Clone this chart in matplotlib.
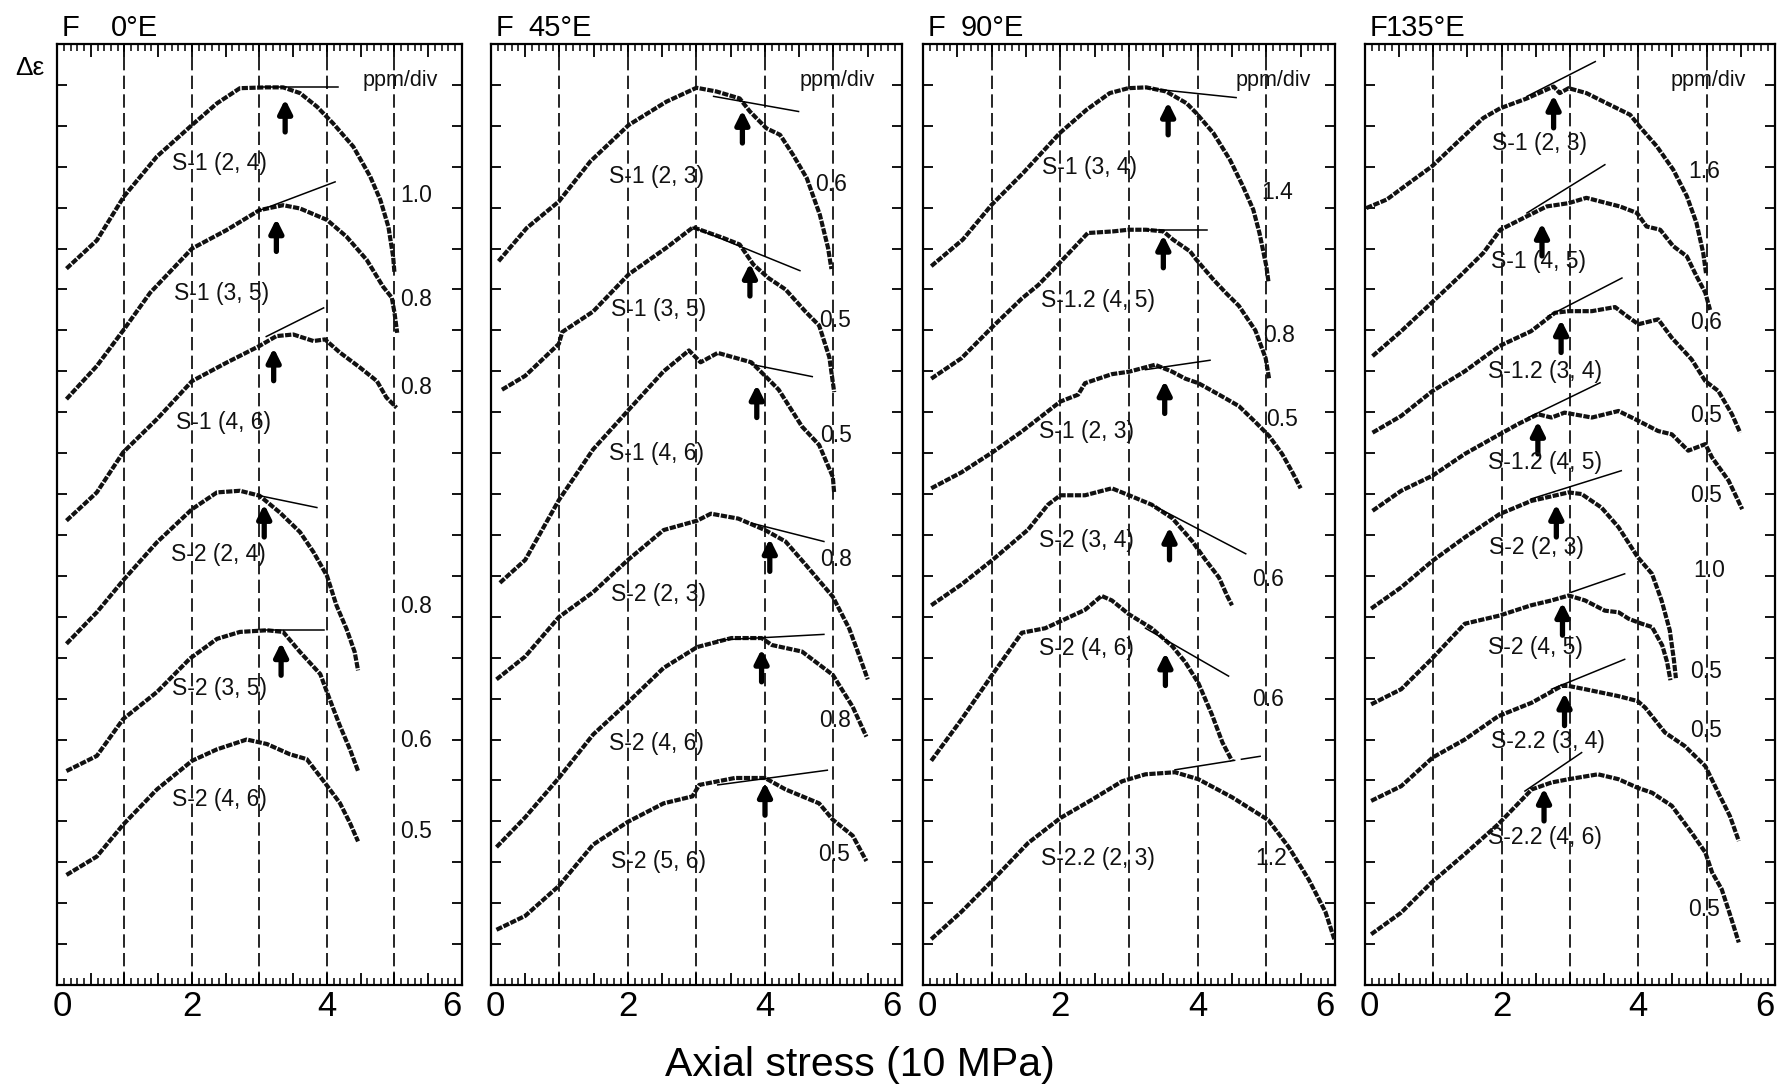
import matplotlib
matplotlib.use("Agg")
import matplotlib.pyplot as plt
import matplotlib.transforms as mtransforms
from matplotlib.ticker import MultipleLocator, NullFormatter

plt.rcParams['font.family'] = ['Liberation Sans', 'DejaVu Sans']

# ---- F 0°E ----
f0_labels = ["S-1 (2, 4)", "S-1 (3, 5)", "S-1 (4, 6)", "S-2 (2, 4)", "S-2 (3, 5)", "S-2 (4, 6)"]
f0_scales = ["1.0", "0.8", "0.8", "0.8", "0.6", "0.5"]
f0_x = [
    [0.14, 0.59, 0.99, 1.48, 2.0, 2.37, 2.71, 3.1, 3.35, 3.6, 3.85, 4.09, 4.39, 4.64, 4.79, 4.91, 4.98, 5.0],
    [0.14, 0.59, 0.99, 1.38, 2.0, 2.51, 3.0, 3.35, 3.6, 4.0, 4.29, 4.59, 4.83, 4.96, 5.0, 5.04],
    [0.14, 0.59, 0.98, 1.48, 2.0, 2.51, 3.0, 3.25, 3.5, 3.8, 3.97, 4.19, 4.49, 4.74, 4.88, 5.03],
    [0.14, 0.59, 0.98, 1.48, 2.0, 2.37, 2.71, 3.0, 3.3, 3.6, 3.8, 4.0, 4.14, 4.29, 4.41, 4.46],
    [0.14, 0.59, 0.98, 1.48, 1.97, 2.37, 2.71, 3.11, 3.35, 3.6, 3.9, 4.02, 4.19, 4.34, 4.46],
    [0.14, 0.59, 0.98, 1.48, 2.0, 2.37, 2.81, 3.11, 3.45, 3.7, 3.97, 4.19, 4.34, 4.46],
]
f0_y = [
    [17.51, 18.2, 19.27, 20.25, 21.02, 21.55, 21.92, 21.94, 21.94, 21.8, 21.47, 21.06, 20.49, 19.76, 19.19, 18.53, 17.8, 17.4],
    [14.32, 15.13, 16.02, 16.92, 18.0, 18.45, 18.94, 19.06, 18.98, 18.7, 18.29, 17.72, 17.07, 16.8, 16.43, 15.94],
    [11.35, 12.04, 13.02, 13.83, 14.76, 15.21, 15.62, 15.86, 15.9, 15.74, 15.78, 15.46, 15.09, 14.76, 14.36, 14.11],
    [8.34, 9.11, 9.89, 10.82, 11.63, 12.04, 12.08, 11.96, 11.55, 11.07, 10.58, 10.0, 9.28, 8.7, 8.14, 7.69],
    [5.23, 5.6, 6.5, 7.16, 7.98, 8.46, 8.63, 8.67, 8.63, 8.14, 7.6, 7.07, 6.34, 5.76, 5.23],
    [2.69, 3.14, 3.92, 4.78, 5.48, 5.76, 6.0, 5.89, 5.64, 5.52, 4.94, 4.45, 3.96, 3.51],
]
f0_onset = [(3.38, 21.7), (3.25, 18.78), (3.21, 15.62), (3.07, 11.8), (3.32, 8.42), None]
f0_tangent = [(3.0, 21.94, 4.17, 21.94), (2.95, 18.9, 4.12, 19.63), (3.1, 15.85, 3.95, 16.55),
              (3.0, 11.96, 3.85, 11.67), (3.05, 8.67, 3.95, 8.67), None]

# ---- F 45°E ----
f45_labels = ["S-1 (2, 3)", "S-1 (3, 5)", "S-1 (4, 6)", "S-2 (2, 3)", "S-2 (4, 6)", "S-2 (5, 6)"]
f45_scales = ["0.6", "0.5", "0.5", "0.8", "0.8", "0.5"]
f45_x = [
    [0.11, 0.52, 0.99, 1.45, 2.01, 2.56, 3.0, 3.29, 3.63, 3.78, 4.02, 4.22, 4.41, 4.61, 4.8, 4.92, 4.97],
    [0.16, 0.5, 0.99, 1.04, 1.49, 2.01, 2.56, 2.95, 3.39, 3.63, 3.83, 4.05, 4.3, 4.59, 4.79, 4.94, 5.01],
    [0.13, 0.5, 0.99, 1.49, 2.0, 2.52, 2.89, 3.06, 3.31, 3.8, 4.0, 4.2, 4.54, 4.79, 4.99, 5.01],
    [0.08, 0.5, 0.99, 1.49, 2.0, 2.52, 3.01, 3.21, 3.61, 4.0, 4.3, 4.59, 4.99, 5.23, 5.38, 5.5],
    [0.08, 0.5, 0.99, 1.49, 2.0, 2.52, 3.01, 3.51, 3.95, 4.1, 4.54, 4.99, 5.28, 5.48],
    [0.08, 0.5, 0.99, 1.49, 2.0, 2.52, 2.94, 3.04, 3.56, 4.0, 4.3, 4.79, 4.99, 5.28, 5.48],
]
f45_y = [
    [17.69, 18.5, 19.15, 20.13, 21.02, 21.59, 21.93, 21.84, 21.67, 21.35, 20.94, 20.78, 20.29, 19.72, 18.83, 18.02, 17.5],
    [14.55, 14.89, 15.67, 15.96, 16.46, 17.37, 18.02, 18.52, 18.26, 18.1, 17.61, 17.28, 17.0, 16.46, 16.12, 15.34, 14.49],
    [9.83, 10.39, 11.85, 13.09, 14.04, 15.0, 15.51, 15.22, 15.45, 15.22, 14.89, 14.55, 13.65, 13.2, 12.42, 12.02],
    [7.47, 8.03, 8.99, 9.6, 10.39, 11.12, 11.35, 11.52, 11.4, 11.12, 10.84, 10.28, 9.49, 8.71, 8.03, 7.47],
    [3.37, 4.1, 5.06, 6.12, 6.91, 7.75, 8.26, 8.48, 8.48, 8.31, 8.15, 7.58, 6.8, 6.07],
    [1.35, 1.69, 2.42, 3.43, 3.99, 4.44, 4.61, 4.89, 5.06, 5.06, 4.78, 4.44, 4.04, 3.65, 3.03],
]
f45_onset = [(3.67, 21.43), (3.78, 17.69), (3.88, 14.72), (4.07, 10.96), (3.95, 8.26), (4.0, 5.0)]
f45_tangent = [(3.25, 21.72, 4.49, 21.35), (2.95, 18.52, 4.51, 17.46), (3.8, 15.17, 4.69, 14.87),
               (3.8, 11.29, 4.86, 10.84), (3.31, 8.43, 4.86, 8.57), (3.31, 4.89, 4.91, 5.25)]

# ---- F 90°E ----
f90_labels = ["S-1 (3, 4)", "S-1.2 (4, 5)", "S-1 (2, 3)", "S-2 (3, 4)", "S-2 (4, 6)", "S-2.2 (2, 3)"]
f90_scales = ["1.4", "0.8", "0.5", "0.6", "0.6", "1.2"]
f90_x = [
    [0.12, 0.58, 1.0, 1.46, 1.99, 2.38, 2.72, 2.99, 3.25, 3.54, 3.84, 3.98, 4.23, 4.47, 4.66, 4.81, 4.9, 5.0, 5.03],
    [0.12, 0.56, 1.02, 1.44, 1.68, 1.99, 2.4, 2.77, 2.99, 3.25, 3.5, 3.64, 3.89, 3.98, 4.23, 4.42, 4.6, 4.84, 4.99, 5.04],
    [0.12, 0.56, 1.02, 1.44, 2.0, 2.26, 2.36, 2.75, 3.0, 3.38, 3.63, 3.82, 4.01, 4.31, 4.6, 4.84, 5.04, 5.23, 5.38, 5.5],
    [0.12, 0.56, 1.02, 1.53, 1.82, 2.0, 2.36, 2.75, 3.0, 3.33, 3.63, 3.92, 4.11, 4.31, 4.43, 4.5],
    [0.12, 0.56, 1.02, 1.44, 1.78, 2.0, 2.36, 2.6, 2.75, 3.0, 3.33, 3.63, 3.82, 4.01, 4.21, 4.36, 4.5],
    [0.12, 0.56, 1.02, 1.53, 2.0, 2.46, 2.9, 3.24, 3.67, 4.01, 4.5, 5.03, 5.33, 5.62, 5.86, 5.99],
]
f90_y = [
    [17.57, 18.22, 19.07, 19.85, 20.82, 21.39, 21.8, 21.92, 21.94, 21.84, 21.55, 21.31, 20.82, 20.17, 19.52, 18.95, 18.38, 17.57, 17.2],
    [14.82, 15.32, 16.1, 16.78, 17.11, 17.65, 18.38, 18.42, 18.46, 18.46, 18.42, 18.22, 17.93, 17.73, 17.24, 16.9, 16.6, 16.0, 15.32, 14.82],
    [12.14, 12.53, 13.03, 13.53, 14.26, 14.43, 14.71, 14.93, 14.99, 15.16, 14.99, 14.82, 14.71, 14.43, 14.15, 13.76, 13.42, 12.98, 12.53, 12.14],
    [9.28, 9.79, 10.4, 11.13, 11.74, 11.97, 11.97, 12.14, 11.97, 11.74, 11.41, 10.85, 10.4, 9.96, 9.51, 9.28],
    [5.48, 6.49, 7.61, 8.61, 8.72, 8.89, 9.17, 9.51, 9.4, 9.06, 8.72, 8.28, 7.89, 7.38, 6.6, 5.93, 5.48],
    [1.12, 1.79, 2.57, 3.47, 4.08, 4.53, 4.98, 5.15, 5.2, 5.03, 4.59, 4.03, 3.36, 2.57, 1.79, 1.12],
]
f90_onset = [(3.57, 21.63), (3.5, 18.38), (3.52, 14.82), (3.59, 11.24), (3.53, 8.17), None]
f90_tangent = [(3.25, 21.92, 4.56, 21.69), (3.25, 18.46, 4.13, 18.46), (3.24, 15.04, 4.18, 15.27),
               (3.33, 11.74, 4.7, 10.54), (3.24, 8.72, 4.45, 7.55), (3.67, 5.26, 4.91, 5.59)]

# ---- F135°E ----
f135_labels = ["S-1 (2, 3)", "S-1 (4, 5)", "S-1.2 (3, 4)", "S-1.2 (4, 5)", "S-2 (2, 3)", "S-2 (4, 5)",
               "S-2.2 (3, 4)", "S-2.2 (4, 6)"]
f135_scales = ["1.6", "0.6", "0.5", "0.5", "1.0", "0.5", "0.5", "0.5"]
f135_x = [
    [0.02, 0.32, 0.61, 0.98, 1.39, 1.73, 1.98, 2.37, 2.76, 2.85, 2.98, 3.24, 3.54, 3.88, 4.02, 4.27, 4.51, 4.71, 4.85, 4.95, 4.99],
    [0.11, 0.53, 0.99, 1.39, 1.73, 1.98, 2.37, 2.66, 2.98, 3.24, 3.54, 3.73, 3.98, 4.12, 4.32, 4.51, 4.71, 4.85, 4.98, 5.05],
    [0.11, 0.53, 0.99, 1.46, 1.97, 2.43, 2.78, 2.98, 3.32, 3.66, 3.8, 4.0, 4.29, 4.49, 4.78, 4.98, 5.17, 5.37, 5.49],
    [0.11, 0.53, 0.99, 1.46, 1.97, 2.24, 2.53, 2.73, 2.92, 3.32, 3.71, 4.0, 4.29, 4.49, 4.73, 4.98, 5.08, 5.32, 5.52],
    [0.09, 0.53, 0.99, 1.46, 1.97, 2.43, 2.98, 3.17, 3.46, 3.71, 3.99, 4.2, 4.34, 4.46, 4.52, 4.55],
    [0.09, 0.53, 0.97, 1.46, 1.97, 2.43, 2.73, 2.98, 3.22, 3.51, 3.71, 3.86, 4.05, 4.2, 4.35, 4.42, 4.47],
    [0.09, 0.53, 0.99, 1.46, 1.95, 2.44, 2.88, 2.98, 3.22, 3.71, 3.99, 4.1, 4.39, 4.68, 4.98, 5.17, 5.34, 5.47],
    [0.09, 0.53, 0.97, 1.46, 1.95, 2.44, 2.73, 2.98, 3.41, 3.71, 3.99, 4.2, 4.49, 4.78, 4.98, 5.08, 5.22, 5.34, 5.47],
]
f135_y = [
    [18.99, 19.2, 19.56, 20.01, 20.66, 21.19, 21.43, 21.67, 21.96, 21.8, 21.92, 21.8, 21.55, 21.27, 20.98, 20.5, 19.93, 19.28, 18.63, 17.89, 17.4],
    [15.37, 15.98, 16.7, 17.33, 17.89, 18.46, 18.79, 19.03, 19.11, 19.24, 19.11, 19.03, 18.87, 18.54, 18.46, 18.06, 17.81, 17.33, 16.92, 16.5],
    [13.5, 13.91, 14.52, 15.0, 15.62, 15.98, 16.43, 16.47, 16.47, 16.57, 16.39, 16.15, 16.27, 15.82, 15.29, 14.76, 14.52, 13.95, 13.5],
    [11.59, 12.08, 12.45, 12.98, 13.46, 13.71, 13.95, 13.87, 13.99, 13.87, 14.03, 13.79, 13.54, 13.46, 13.06, 13.22, 12.89, 12.33, 11.63],
    [9.2, 9.72, 10.37, 10.94, 11.51, 11.83, 12.04, 12.0, 11.67, 11.19, 10.46, 10.05, 9.4, 8.67, 7.95, 7.5],
    [6.86, 7.23, 7.96, 8.83, 9.03, 9.28, 9.4, 9.52, 9.4, 9.15, 9.11, 8.95, 8.83, 8.75, 8.3, 7.9, 7.45],
    [4.5, 4.86, 5.56, 6.0, 6.57, 6.9, 7.31, 7.31, 7.23, 7.06, 6.94, 6.78, 6.17, 5.84, 5.35, 4.7, 4.13, 3.52],
    [1.24, 1.77, 2.5, 3.2, 3.93, 4.78, 4.95, 5.03, 5.15, 5.03, 4.82, 4.7, 4.38, 3.72, 3.24, 2.75, 2.34, 1.73, 1.04],
]
f135_onset = [(2.76, 21.8), (2.59, 18.67), (2.87, 16.31), (2.53, 13.83), (2.8, 11.8), (2.89, 9.4),
              (2.92, 7.19), (2.62, 4.86)]
f135_tangent = [(2.37, 21.72, 3.37, 22.57), (2.37, 18.87, 3.51, 20.05), (2.68, 16.35, 3.76, 17.28),
                (2.39, 13.87, 3.44, 14.72), (2.43, 11.88, 3.75, 12.57), (3.02, 9.6, 3.8, 10.05),
                (2.73, 7.23, 3.8, 7.96), (2.34, 4.74, 3.17, 5.68)]

# x tick labels
stress_ticks = [0, 2, 4, 6]
tick_shift_px = [4, 0, 0, -10]

# layout: where the labels sit (data coords)
f0_label_pos = [(2.41, 20.08), (2.44, 16.9), (2.46, 13.75), (2.39, 10.53), (2.41, 7.24), (2.41, 4.53)]
f0_scale_pos = [(5.08, 19.3), (5.08, 16.75), (5.08, 14.6), (5.08, 9.24), (5.08, 5.97), (5.08, 3.75)]
f45_label_pos = [(2.42, 19.76), (2.45, 16.52), (2.42, 12.98), (2.45, 9.55), (2.42, 5.9), (2.45, 3.03)]
f45_scale_pos = [(4.73, 19.56), (4.79, 16.24), (4.81, 13.43), (4.81, 10.39), (4.79, 6.46), (4.78, 3.2)]
f90_label_pos = [(2.43, 19.97), (2.55, 16.72), (2.38, 13.53), (2.38, 10.87), (2.38, 8.22), (2.55, 3.08)]
f90_scale_pos = [(4.93, 19.36), (4.96, 15.88), (4.99, 13.81), (4.79, 9.9), (4.79, 6.99), (4.84, 3.08)]
f135_label_pos = [(2.56, 20.58), (2.54, 17.69), (2.63, 15.0), (2.63, 12.77), (2.51, 10.7), (2.49, 8.24),
                  (2.68, 5.96), (2.63, 3.6)]
f135_scale_pos = [(4.73, 19.89), (4.76, 16.19), (4.76, 13.91), (4.76, 11.96), (4.81, 10.13), (4.76, 7.67),
                  (4.76, 6.21), (4.73, 1.85)]

panels = [
    ("0", f0_x, f0_y, f0_labels, f0_scales, f0_onset, f0_tangent, f0_label_pos, f0_scale_pos, 5.08),
    ("45", f45_x, f45_y, f45_labels, f45_scales, f45_onset, f45_tangent, f45_label_pos, f45_scale_pos, 5.05),
    ("90", f90_x, f90_y, f90_labels, f90_scales, f90_onset, f90_tangent, f90_label_pos, f90_scale_pos, 5.1),
    ("135", f135_x, f135_y, f135_labels, f135_scales, f135_onset, f135_tangent, f135_label_pos, f135_scale_pos, 5.02),
]

W, H = 1781, 1091
ax_px = [(57, 405), (491, 411), (923, 412), (1365, 410)]
top_px, bot_px = 44, 985

fig = plt.figure(figsize=(W / 100, H / 100), dpi=100)
ink = "#111111"

for (left, width), (ang, xs, ys, labels, scales, onsets, tangents, lpos, spos, ppm_x) in zip(ax_px, panels):
    ax = fig.add_axes([left / W, 1 - bot_px / H, width / W, (bot_px - top_px) / H])
    ax.set_xlim(0, 6)
    ax.set_ylim(0, 23)

    for v in range(1, 6):
        ax.axvline(v, color="k", lw=1.2, ls=(0, (8, 3.2)), zorder=1)

    for x, y in zip(xs, ys):
        ax.plot(x, y, color=ink, lw=3.0, ls=(0, (1.5, 0.35)), zorder=3)

    for t in tangents:
        if t is None:
            continue
        x0, y0, x1, y1 = t
        if ang == "90" and t is tangents[-1]:
            # solid part then a short dash at the end
            xm, ym = x0 + 0.7 * (x1 - x0), y0 + 0.7 * (y1 - y0)
            xd, yd = x0 + 0.78 * (x1 - x0), y0 + 0.78 * (y1 - y0)
            ax.plot([x0, xm], [y0, ym], color="k", lw=1.1, zorder=4)
            ax.plot([xd, x1], [yd, y1], color="k", lw=1.1, zorder=4)
        else:
            ax.plot([x0, x1], [y0, y1], color="k", lw=1.1, zorder=4)

    for o in onsets:
        if o is None:
            continue
        xo, yo = o
        ax.annotate("", xy=(xo, yo - 0.05), xytext=(xo, yo - 0.85),
                    arrowprops=dict(arrowstyle="-|>,head_width=0.4,head_length=0.8",
                                    lw=3.8, color="k", shrinkA=0, shrinkB=0), zorder=5)

    for lab, (lx, ly) in zip(labels, lpos):
        ax.text(lx, ly, lab, fontsize=16.5, ha="center", va="center", color=ink, zorder=6)
    for sc, (sx, sy) in zip(scales, spos):
        ax.text(sx, sy, sc, fontsize=16.5, ha="left", va="center", color=ink, zorder=6)
    ax.text(ppm_x, 22.12, "ppm/div", fontsize=15.5, ha="center", va="center", color=ink)

    ax.xaxis.set_major_locator(MultipleLocator(0.5))
    ax.xaxis.set_minor_locator(MultipleLocator(0.1))
    ax.xaxis.set_major_formatter(NullFormatter())
    ax.yaxis.set_major_locator(MultipleLocator(1))
    ax.tick_params(axis="x", which="major", direction="in", length=9, width=1.3, top=True, bottom=True)
    ax.tick_params(axis="x", which="minor", direction="in", length=5, width=1.1, top=True, bottom=True)
    ax.tick_params(axis="y", which="major", direction="in", length=7, width=1.3,
                   left=True, right=True, labelleft=False)
    for s in ax.spines.values():
        s.set_linewidth(1.6)

    # stress labels under the axis, nudged apart where panels meet
    for tv, dx in zip(stress_ticks, tick_shift_px):
        if ang == "0" and tv == 0:
            dx = 5
        tr = ax.get_xaxis_transform() + mtransforms.ScaledTranslation(dx / 100, 0, fig.dpi_scale_trans)
        ax.text(tv, -21 / 941, str(tv), transform=tr, fontsize=25, ha="center", va="center")

    # panel title: "F" at left, angle right-aligned
    fig.text((left + 5) / W, 1 - 36 / H, "F", fontsize=21, ha="left", va="baseline")
    fig.text((left + 101) / W, 1 - 36 / H, ang + "°E", fontsize=21, ha="right", va="baseline")

fig.text(30 / W, 1 - 68 / H, "Δε", fontsize=19, ha="center", va="center")
fig.text(860 / W, 1 - 1065 / H, "Axial stress (10 MPa)", fontsize=29.5, ha="center", va="center")

fig.savefig("out.png", dpi=100)
